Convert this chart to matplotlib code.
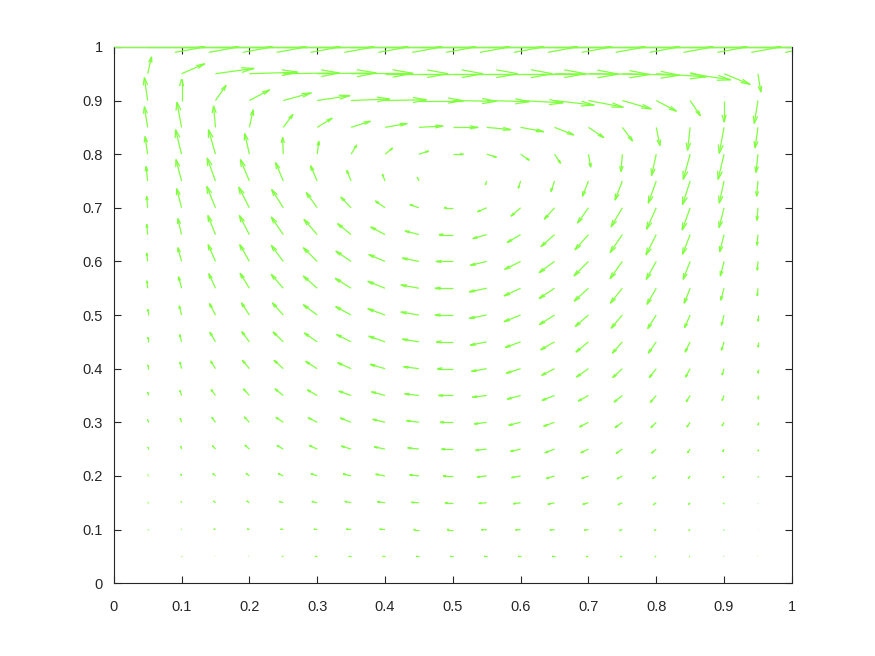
import numpy as np
import matplotlib
matplotlib.use("Agg")
import matplotlib.pyplot as plt
from matplotlib.collections import LineCollection
from matplotlib.transforms import Bbox, TransformedBbox

# ---------------- data ----------------
# grid positions
X_POS = np.linspace(0.0, 1.0, 21)
Y_POS = np.linspace(0.0, 1.0, 21)

# lid (top row, y = 1) horizontal velocity
LID_U = 0.94

# interior velocities, columns x = 0.05 .. 0.95, rows listed from y = 0.95 down to y = 0.05
U_ROWS = [
    [0.04, 0.24, 0.40, 0.50, 0.58, 0.61, 0.64, 0.65, 0.66, 0.67, 0.68, 0.67, 0.66, 0.63, 0.59, 0.52, 0.42, 0.27, 0.03],
    [-0.034, 0.0, 0.11, 0.21, 0.29, 0.34, 0.40, 0.43, 0.45, 0.45, 0.44, 0.44, 0.41, 0.36, 0.30, 0.21, 0.106, 0.0, -0.038],
    [-0.034, -0.048, -0.02, 0.04, 0.10, 0.155, 0.20, 0.23, 0.25, 0.26, 0.25, 0.24, 0.20, 0.16, 0.106, 0.038, -0.027, -0.05, -0.03],
    [-0.027, -0.062, -0.072, -0.048, -0.007, 0.017, 0.058, 0.08, 0.10, 0.11, 0.10, 0.09, 0.062, 0.024, -0.014, -0.048, -0.072, -0.062, -0.02],
    [-0.017, -0.058, -0.086, -0.093, -0.079, -0.069, -0.045, -0.027, -0.017, 0.0, -0.014, -0.024, -0.038, -0.062, -0.076, -0.082, -0.079, -0.05, -0.014],
    [-0.01, -0.05, -0.09, -0.11, -0.12, -0.113, -0.106, -0.10, -0.093, -0.09, -0.096, -0.10, -0.106, -0.113, -0.117, -0.10, -0.082, -0.052, -0.01],
    [-0.01, -0.038, -0.079, -0.103, -0.124, -0.137, -0.14, -0.148, -0.144, -0.144, -0.144, -0.14, -0.14, -0.14, -0.127, -0.106, -0.079, -0.045, -0.01],
    [-0.01, -0.038, -0.076, -0.10, -0.124, -0.144, -0.158, -0.168, -0.172, -0.175, -0.172, -0.165, -0.16, -0.15, -0.127, -0.103, -0.072, -0.038, -0.007],
    [-0.007, -0.031, -0.069, -0.096, -0.124, -0.144, -0.165, -0.178, -0.186, -0.186, -0.182, -0.172, -0.16, -0.148, -0.124, -0.096, -0.062, -0.034, -0.007],
    [0.0, -0.024, -0.062, -0.082, -0.113, -0.144, -0.16, -0.178, -0.186, -0.186, -0.182, -0.172, -0.158, -0.137, -0.117, -0.089, -0.058, -0.027, 0.0],
    [0.0, -0.02, -0.058, -0.079, -0.106, -0.134, -0.15, -0.168, -0.172, -0.172, -0.172, -0.16, -0.144, -0.13, -0.103, -0.082, -0.052, -0.027, 0.0],
    [0.0, -0.017, -0.05, -0.072, -0.096, -0.12, -0.14, -0.155, -0.16, -0.16, -0.158, -0.15, -0.134, -0.124, -0.10, -0.072, -0.048, -0.02, 0.0],
    [0.0, -0.017, -0.045, -0.062, -0.086, -0.103, -0.127, -0.14, -0.148, -0.15, -0.148, -0.14, -0.13, -0.106, -0.086, -0.062, -0.041, -0.02, 0.0],
    [0.0, -0.014, -0.038, -0.052, -0.076, -0.093, -0.113, -0.127, -0.13, -0.134, -0.13, -0.124, -0.113, -0.093, -0.076, -0.055, -0.034, -0.02, 0.0],
    [0.0, -0.01, -0.031, -0.045, -0.065, -0.082, -0.10, -0.113, -0.117, -0.117, -0.117, -0.107, -0.10, -0.079, -0.065, -0.048, -0.027, -0.014, 0.0],
    [0.0, -0.007, -0.027, -0.034, -0.052, -0.065, -0.082, -0.096, -0.096, -0.10, -0.10, -0.093, -0.086, -0.069, -0.055, -0.038, -0.02, -0.01, 0.0],
    [0.0, -0.005, -0.02, -0.027, -0.041, -0.055, -0.065, -0.079, -0.079, -0.082, -0.082, -0.076, -0.069, -0.058, -0.045, -0.031, -0.017, -0.007, 0.0],
    [0.0, -0.003, -0.017, -0.02, -0.027, -0.034, -0.048, -0.055, -0.055, -0.058, -0.055, -0.052, -0.048, -0.041, -0.031, -0.02, -0.014, -0.005, 0.0],
    [0.0, -0.002, -0.005, -0.008, -0.014, -0.018, -0.024, -0.025, -0.025, -0.025, -0.025, -0.025, -0.025, -0.024, -0.02, -0.014, -0.01, -0.005, -0.002],
]
V_ROWS = [
    [0.22, 0.13, 0.07, 0.02, 0.01, 0.01, 0.005, 0.0, 0.0, 0.0, 0.0, 0.0, -0.005, -0.01, -0.02, -0.04, -0.08, -0.14, -0.24],
    [0.30, 0.28, 0.20, 0.14, 0.10, 0.065, 0.02, 0.01, 0.0, -0.01, -0.015, -0.03, -0.06, -0.087, -0.11, -0.14, -0.20, -0.28, -0.30],
    [0.27, 0.33, 0.28, 0.23, 0.17, 0.12, 0.08, 0.05, 0.017, 0.0, -0.03, -0.057, -0.10, -0.135, -0.18, -0.24, -0.30, -0.34, -0.27],
    [0.23, 0.32, 0.32, 0.27, 0.22, 0.17, 0.12, 0.08, 0.04, 0.0, -0.04, -0.08, -0.12, -0.17, -0.23, -0.28, -0.33, -0.33, -0.24],
    [0.19, 0.28, 0.30, 0.28, 0.24, 0.20, 0.14, 0.09, 0.05, 0.0, -0.05, -0.096, -0.14, -0.20, -0.25, -0.29, -0.31, -0.29, -0.20],
    [0.15, 0.25, 0.28, 0.27, 0.24, 0.20, 0.14, 0.09, 0.043, 0.0, -0.052, -0.11, -0.15, -0.20, -0.25, -0.28, -0.29, -0.26, -0.165],
    [0.135, 0.21, 0.25, 0.25, 0.23, 0.20, 0.144, 0.10, 0.048, 0.0, -0.052, -0.104, -0.157, -0.20, -0.235, -0.265, -0.257, -0.226, -0.14],
    [0.11, 0.18, 0.22, 0.22, 0.21, 0.18, 0.135, 0.09, 0.043, 0.0, -0.052, -0.104, -0.148, -0.19, -0.226, -0.235, -0.235, -0.19, -0.117],
    [0.096, 0.15, 0.19, 0.196, 0.18, 0.16, 0.13, 0.09, 0.043, 0.0, -0.048, -0.10, -0.135, -0.17, -0.196, -0.21, -0.196, -0.157, -0.10],
    [0.074, 0.12, 0.15, 0.16, 0.16, 0.135, 0.11, 0.083, 0.039, 0.0, -0.044, -0.087, -0.126, -0.15, -0.174, -0.178, -0.165, -0.135, -0.078],
    [0.06, 0.096, 0.126, 0.135, 0.13, 0.117, 0.096, 0.074, 0.035, 0.0, -0.044, -0.074, -0.104, -0.135, -0.148, -0.148, -0.135, -0.11, -0.065],
    [0.048, 0.087, 0.10, 0.11, 0.11, 0.096, 0.078, 0.057, 0.026, 0.0, -0.035, -0.06, -0.087, -0.11, -0.117, -0.117, -0.11, -0.083, -0.052],
    [0.04, 0.065, 0.078, 0.087, 0.087, 0.074, 0.057, 0.048, 0.022, 0.0, -0.022, -0.048, -0.065, -0.074, -0.087, -0.091, -0.083, -0.065, -0.04],
    [0.035, 0.052, 0.065, 0.07, 0.065, 0.06, 0.057, 0.039, 0.022, 0.0, -0.022, -0.039, -0.052, -0.061, -0.07, -0.07, -0.061, -0.048, -0.03],
    [0.026, 0.04, 0.044, 0.052, 0.048, 0.048, 0.039, 0.03, 0.017, 0.0, -0.017, -0.03, -0.048, -0.048, -0.057, -0.052, -0.048, -0.035, -0.022],
    [0.017, 0.026, 0.03, 0.035, 0.03, 0.03, 0.026, 0.022, 0.013, 0.0, -0.013, -0.022, -0.035, -0.035, -0.039, -0.035, -0.035, -0.026, -0.013],
    [0.01, 0.015, 0.022, 0.022, 0.017, 0.017, 0.017, 0.013, 0.005, 0.0, -0.009, -0.013, -0.022, -0.022, -0.026, -0.026, -0.022, -0.017, -0.008],
    [0.005, 0.007, 0.009, 0.009, 0.005, 0.004, 0.005, 0.004, 0.0, 0.0, -0.004, -0.005, -0.009, -0.009, -0.013, -0.013, -0.013, -0.009, -0.004],
    [0.0, 0.0, 0.0, 0.0, 0.0, 0.0, 0.0, 0.0, 0.0, 0.0, 0.0, 0.0, 0.0, -0.003, -0.003, -0.003, -0.003, -0.002, -0.001],
]

TICKS = [0.0, 0.1, 0.2, 0.3, 0.4, 0.5, 0.6, 0.7, 0.8, 0.9, 1.0]
TICK_LABELS = ["0", "0.1", "0.2", "0.3", "0.4", "0.5", "0.6", "0.7", "0.8", "0.9", "1"]

# ---------------- build full field ----------------
n = len(X_POS)
U = np.zeros((n, n))
V = np.zeros((n, n))
U[1:-1, 1:-1] = np.array(U_ROWS)[::-1]
V[1:-1, 1:-1] = np.array(V_ROWS)[::-1]
U[-1, :] = LID_U
XX, YY = np.meshgrid(X_POS, Y_POS)

# MATLAB-style quiver geometry (data units)
SCALE = 0.143
ALPHA = 0.33
BETA = 0.23
us = (U * SCALE).ravel()
vs = (V * SCALE).ravel()
xs = XX.ravel()
ys = YY.ravel()

segments = []
for x, y, u, v in zip(xs, ys, us, vs):
    if u == 0 and v == 0:
        continue
    tx, ty = x + u, y + v
    segments.append([(x, y), (tx, ty)])
    b1 = (tx - ALPHA * (u + BETA * v), ty - ALPHA * (v - BETA * u))
    b2 = (tx - ALPHA * (u - BETA * v), ty - ALPHA * (v + BETA * u))
    segments.append([b1, (tx, ty), b2])

# ---------------- figure ----------------
plt.rcParams['font.family'] = ['Liberation Sans', 'DejaVu Sans']
fig = plt.figure(figsize=(8.75, 6.56), dpi=100)
ax = fig.add_axes([0.13, 0.111, 0.775, 0.8175])
ax.set_xlim(0, 1)
ax.set_ylim(0, 1)

lc = LineCollection(segments, colors='#80ff40', linewidths=0.9, zorder=3,
                    capstyle='butt', joinstyle='miter')
ax.add_collection(lc)
lc.set_clip_box(TransformedBbox(Bbox([[0.0, -0.01], [1.0, 1.0012]]), ax.transAxes))

ax.set_xticks(TICKS)
ax.set_xticklabels(TICK_LABELS)
ax.set_yticks(TICKS)
ax.set_yticklabels(TICK_LABELS)
ax.tick_params(axis='both', direction='in', length=5, width=0.8, colors='#262626',
               labelsize=10.5, top=True, right=True)
ax.tick_params(axis='x', pad=12)
ax.tick_params(axis='y', pad=8)
for sp in ax.spines.values():
    sp.set_color('#262626')
    sp.set_linewidth(0.8)

fig.savefig('out.png', dpi=100)
